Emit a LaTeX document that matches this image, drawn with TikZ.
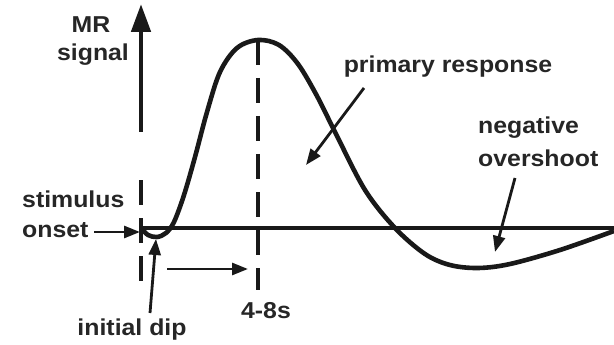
\documentclass[tikz,border=0pt]{standalone}
\usepackage{fontspec}
\setmainfont{Liberation Sans}
\usetikzlibrary{arrows.meta}
\newcommand{\lblx}[1]{\scalebox{1.08}[1]{#1}}
\tikzset{
  lbl/.style={inner sep=0pt, font=\bfseries\fontsize{23}{25}\selectfont, text=black!85},
  thick line/.style={line width=4.6pt, black!90},
  pointer/.style={line width=2.8pt, black!90, -{Triangle[width=12pt,length=16pt]}},
  dashline/.style={line width=3.6pt, black!90, dash pattern=on 25pt off 13pt}
}
\begin{document}
\begin{tikzpicture}[x=1pt,y=-1pt]
\useasboundingbox (0,0) rectangle (614,345);
% text nodes
\node[lbl, anchor=base] (mr) at (91,33) {\lblx{MR}};
\node[lbl, anchor=base] (signal) at (93,61) {\lblx{signal}};
\node[lbl, anchor=base west] (stim) at (22,207) {\lblx{stimulus}};
\node[lbl, anchor=base west] (onset) at (22,237) {\lblx{onset}};
\node[lbl, anchor=base] (dip) at (132,335) {\lblx{initial dip}};
\node[lbl, anchor=base] (t48) at (266,318) {\lblx{4-8s}};
\node[lbl, anchor=base] (prim) at (448,73) {\lblx{primary response}};
\node[lbl, anchor=base west] (neg) at (478,134) {\lblx{negative}};
\node[lbl, anchor=base west] (over) at (478,167) {\lblx{overshoot}};
% coordinates
\coordinate (axb) at (141,132);
\coordinate (axt) at (141,4);
\coordinate (onL) at (94,232);
\coordinate (onR) at (140,232);
\coordinate (dipS) at (150,313);
\coordinate (dipE) at (156,239);
\coordinate (hS) at (167,269);
\coordinate (hE) at (248,269);
\coordinate (pS) at (364,88);
\coordinate (pE) at (306,165);
\coordinate (nS) at (515,178);
\coordinate (nE) at (495,252);
\coordinate (b0) at (141,228);
\coordinate (b1) at (614,228);
\coordinate (d1) at (141,180);
\coordinate (d2) at (141,285);
\coordinate (e1) at (258,40);
\coordinate (e2) at (258,290);
% axis
\draw[line width=4.8pt, black!90, -{Triangle[width=19pt,length=28pt]}] (axb) -- (axt);
% dashed lines
\draw[dashline] (d1) -- (d2);
\draw[dashline] (e1) -- (e2);
% baseline
\draw[thick line] (b0) -- (b1);
% response curve
\draw[thick line, line join=round] plot[smooth, tension=0.55] coordinates {
 (141,228) (148,235) (157,237) (166,233) (174,222) (184,195) (195,157) (207,112)
 (220,72) (237,48) (258,40) (279,45) (298,64) (317,96) (336,134) (365,190)
 (395,228) (425,254) (450,265) (478,268) (510,264) (560,250) (614,231)};
% pointers
\draw[pointer] (onL) -- (onR);
\draw[pointer] (dipS) -- (dipE);
\draw[pointer] (hS) -- (hE);
\draw[pointer] (pS) -- (pE);
\draw[pointer] (nS) -- (nE);
\end{tikzpicture}
\end{document}
